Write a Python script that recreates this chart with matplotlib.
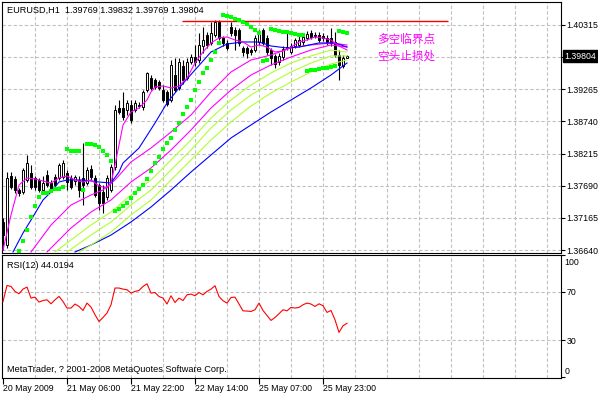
import matplotlib
matplotlib.use("Agg")
import matplotlib.pyplot as plt
from matplotlib import font_manager
import numpy as np

# fuente estrecha tipo Tahoma si existe
_names = {f.name for f in font_manager.fontManager.ttflist}
if "Liberation Sans Narrow" in _names:
    plt.rcParams['font.family'] = ['Liberation Sans Narrow', 'DejaVu Sans']
    plt.rcParams['font.size'] = 7.0
else:
    plt.rcParams['font.family'] = ['Liberation Sans', 'DejaVu Sans']
    plt.rcParams['font.size'] = 6.3

# Velas H1 EURUSD (barra 0 = 20 May 14:00)
opens = [1.37098, 1.36722, 1.37849, 1.37800, 1.37620, 1.37588, 1.37784, 1.37898, 1.37816, 1.37784,
         1.37620, 1.37865, 1.37735, 1.37833, 1.37816, 1.37833, 1.37898, 1.37816, 1.37767, 1.37784,
         1.37816, 1.37735, 1.37963, 1.37816, 1.37702, 1.37588, 1.37506, 1.37620, 1.37996, 1.38959,
         1.38959, 1.38927, 1.39008, 1.38927, 1.39008, 1.38976, 1.39253, 1.39449, 1.39417, 1.39384,
         1.39253, 1.39221, 1.39090, 1.39498, 1.39286, 1.39645, 1.39449, 1.39711, 1.39792, 1.39743,
         1.39972, 1.40151, 1.40021, 1.40151, 1.40364, 1.40102, 1.40021, 1.40282, 1.40233, 1.40233,
         1.39939, 1.39939, 1.39906, 1.39906, 1.40037, 1.40233, 1.40102, 1.39906, 1.39809, 1.39711,
         1.39792, 1.39939, 1.39874, 1.39972, 1.39988, 1.40037, 1.40102, 1.40184, 1.40151, 1.40151,
         1.40135, 1.40102, 1.40102, 1.40037, 1.39825, 1.39645, 1.39769]
closes = [1.36885, 1.37816, 1.37669, 1.37620, 1.37571, 1.37947, 1.38061, 1.37669, 1.37669, 1.37620,
          1.37735, 1.37702, 1.37620, 1.37702, 1.38029, 1.38061, 1.37751, 1.37669, 1.37833, 1.37620,
          1.37702, 1.37947, 1.37833, 1.37539, 1.37408, 1.37408, 1.37816, 1.37996, 1.38927, 1.38894,
          1.38812, 1.39041, 1.38763, 1.39041, 1.38992, 1.39221, 1.39531, 1.39286, 1.39302, 1.39286,
          1.39090, 1.39025, 1.39662, 1.39253, 1.39711, 1.39417, 1.39711, 1.39792, 1.39711, 1.39988,
          1.40070, 1.39988, 1.40184, 1.40364, 1.40102, 1.40021, 1.39939, 1.40184, 1.40151, 1.40021,
          1.39874, 1.39858, 1.39874, 1.40102, 1.40168, 1.40021, 1.39874, 1.39776, 1.39678, 1.39809,
          1.39923, 1.39955, 1.39972, 1.40070, 1.40070, 1.40119, 1.40168, 1.40119, 1.40135, 1.40070,
          1.40102, 1.40037, 1.40021, 1.39825, 1.39662, 1.39776, 1.39804]
highs = [1.37163, 1.37914, 1.37914, 1.37849, 1.37653, 1.37980, 1.38192, 1.38029, 1.37849, 1.37816,
         1.37849, 1.37947, 1.37784, 1.37882, 1.38061, 1.38110, 1.37947, 1.37865, 1.37865, 1.37849,
         1.38388, 1.37996, 1.38029, 1.37865, 1.37735, 1.37702, 1.37865, 1.38045, 1.39008, 1.39090,
         1.39221, 1.39090, 1.39090, 1.39090, 1.39057, 1.39253, 1.39547, 1.39498, 1.39449, 1.39417,
         1.39335, 1.39253, 1.39743, 1.39776, 1.39776, 1.39743, 1.39776, 1.39841, 1.39988, 1.40184,
         1.40282, 1.40200, 1.40364, 1.40396, 1.40396, 1.40135, 1.40070, 1.40364, 1.40282, 1.40266,
         1.39972, 1.39972, 1.39939, 1.40151, 1.40233, 1.40266, 1.40151, 1.39939, 1.39841, 1.39858,
         1.39972, 1.40184, 1.40021, 1.40102, 1.40135, 1.40151, 1.40217, 1.40233, 1.40200, 1.40200,
         1.40184, 1.40151, 1.40266, 1.40200, 1.39906, 1.39825, 1.39832]
lows = [1.36640, 1.36673, 1.37637, 1.37571, 1.37522, 1.37555, 1.37751, 1.37637, 1.37620, 1.37588,
        1.37588, 1.37669, 1.37588, 1.37653, 1.37784, 1.37800, 1.37620, 1.37637, 1.37702, 1.37506,
        1.37375, 1.37702, 1.37784, 1.37506, 1.37294, 1.37245, 1.37457, 1.37588, 1.37947, 1.38861,
        1.38763, 1.38845, 1.38714, 1.38894, 1.38959, 1.38927, 1.39221, 1.39253, 1.39270, 1.39253,
        1.39057, 1.38992, 1.39057, 1.39221, 1.39253, 1.39351, 1.39417, 1.39678, 1.39645, 1.39694,
        1.39858, 1.39939, 1.39988, 1.40119, 1.40070, 1.39972, 1.39906, 1.40135, 1.39906, 1.39972,
        1.39809, 1.39776, 1.39825, 1.39874, 1.39988, 1.39988, 1.39825, 1.39662, 1.39613, 1.39662,
        1.39743, 1.39906, 1.39841, 1.39939, 1.39955, 1.39988, 1.40070, 1.40086, 1.40102, 1.40037,
        1.40053, 1.39988, 1.39972, 1.39792, 1.39417, 1.39613, 1.39769]

# Parabolic SAR (desde la barra 4)
sar_start = 4
sar = [1.36624, 1.36788, 1.36967, 1.37179, 1.37359, 1.37506, 1.37571, 1.37571, 1.37604, 1.37637,
       1.37637, 1.37669, 1.38290, 1.38257, 1.38257, 1.38257, 1.37620, 1.38372, 1.38372, 1.38355,
       1.38323, 1.38257, 1.38192, 1.38094, 1.37277, 1.37310, 1.37359, 1.37408, 1.37490, 1.37571,
       1.37637, 1.37702, 1.37800, 1.37931, 1.38061, 1.38159, 1.38290, 1.38388, 1.38470, 1.38600,
       1.38714, 1.38861, 1.38976, 1.39090, 1.39253, 1.39384, 1.39531, 1.39613, 1.39743, 1.39874,
       1.40021, 1.40478, 1.40462, 1.40445, 1.40413, 1.40396, 1.40364, 1.40331, 1.40282, 1.40233,
       1.40184, 1.39727, 1.39743, 1.40249, 1.40233, 1.40217, 1.40200, 1.40200, 1.40184, 1.40168,
       1.40151, 1.40151, 1.39564, 1.39580, 1.39580, 1.39596, 1.39613, 1.39613, 1.39629, 1.39645,
       1.40217, 1.40200, 1.40184]

# Medias moviles (barra, precio)
ma_fast_x = [0, 2, 4, 6, 8, 10, 12, 14, 16, 18, 20, 22, 24, 26, 27, 28, 29, 30, 32, 34, 36, 37, 38,
             40, 42, 44, 46, 48, 50, 52, 54, 56, 58, 60, 62, 64, 66, 68, 70, 72, 74, 76, 78, 80, 82, 84, 86]
ma_fast_y = [1.36640, 1.37212, 1.37702, 1.37816, 1.37800, 1.37767, 1.37735, 1.37816, 1.37849, 1.37784,
             1.37751, 1.37784, 1.37686, 1.37653, 1.37735, 1.38029, 1.38355, 1.38682, 1.38894, 1.38959,
             1.39090, 1.39221, 1.39302, 1.39319, 1.39286, 1.39319, 1.39449, 1.39694, 1.39874, 1.40021,
             1.40102, 1.40119, 1.40070, 1.40037, 1.39955, 1.39988, 1.39955, 1.39874, 1.39890, 1.39955,
             1.40037, 1.40070, 1.40119, 1.40102, 1.40070, 1.39972, 1.39906]
ma_blue_x = [2.5, 5, 7, 10, 12, 14, 16, 20, 24, 27, 29, 30, 34, 38, 41, 44, 48, 52, 56, 60, 64, 67,
             71, 74, 79, 83, 86]
ma_blue_y = [1.36608, 1.36918, 1.37130, 1.37457, 1.37588, 1.37751, 1.37784, 1.37784, 1.37751, 1.37735,
             1.37914, 1.38061, 1.38306, 1.38714, 1.39041, 1.39286, 1.39580, 1.39874, 1.40004, 1.40037,
             1.40037, 1.39972, 1.39939, 1.39955, 1.40021, 1.40021, 1.39955]
ma_m1_x = [7, 12, 17, 22, 25, 28, 32, 37, 42, 47, 52, 57, 62, 67, 72, 77, 82, 86]
ma_m1_y = [1.36608, 1.37049, 1.37375, 1.37539, 1.37620, 1.37784, 1.38078, 1.38306, 1.38567, 1.38845,
           1.39221, 1.39547, 1.39743, 1.39825, 1.39939, 1.39988, 1.40021, 1.39988]
ma_m2_x = [11, 17, 22, 27, 32, 37, 42, 47, 52, 57, 62, 67, 72, 77, 82, 86]
ma_m2_y = [1.36608, 1.37000, 1.37261, 1.37457, 1.37751, 1.37980, 1.38273, 1.38600, 1.38959, 1.39253,
           1.39498, 1.39662, 1.39792, 1.39906, 1.39988, 1.39955]
ma_g1_x = [13, 17, 22, 27, 32, 37, 42, 47, 52, 57, 62, 67, 72, 77, 82, 86]
ma_g1_y = [1.36608, 1.36804, 1.37049, 1.37261, 1.37539, 1.37784, 1.38110, 1.38437, 1.38796, 1.39090,
           1.39335, 1.39531, 1.39694, 1.39809, 1.39906, 1.39874]
ma_g2_x = [16, 22, 27, 32, 37, 42, 47, 52, 57, 62, 67, 72, 77, 82, 86]
ma_g2_y = [1.36608, 1.36885, 1.37098, 1.37375, 1.37620, 1.37947, 1.38273, 1.38633, 1.38927, 1.39172,
           1.39368, 1.39547, 1.39694, 1.39809, 1.39809]
ma_g3_x = [19, 22, 27, 32, 37, 42, 47, 52, 57, 62, 67, 72, 77, 82, 86]
ma_g3_y = [1.36608, 1.36722, 1.36934, 1.37212, 1.37457, 1.37784, 1.38110, 1.38437, 1.38731, 1.38992,
           1.39204, 1.39384, 1.39547, 1.39678, 1.39743]
ma_slow_x = [18, 22, 27, 32, 37, 42, 47, 52, 57, 62, 67, 72, 77, 82, 86]
ma_slow_y = [1.36608, 1.36722, 1.36885, 1.37098, 1.37343, 1.37620, 1.37914, 1.38192, 1.38470, 1.38682,
             1.38894, 1.39090, 1.39286, 1.39498, 1.39694]

rsi = [62.0, 75.2, 74.4, 70.3, 68.4, 72.2, 73.9, 64.8, 65.6, 61.5,
       62.8, 63.4, 60.1, 63.4, 66.2, 62.0, 56.6, 56.6, 59.9, 57.9,
       54.6, 60.7, 57.4, 51.1, 45.5, 48.8, 52.5, 59.3, 73.1, 73.1,
       72.2, 71.7, 68.9, 70.3, 71.1, 74.4, 76.6, 68.9, 69.4, 66.1,
       64.8, 59.9, 66.7, 61.2, 64.8, 62.8, 67.5, 68.1, 66.7, 69.4,
       67.5, 70.3, 72.2, 75.0, 66.1, 62.6, 60.7, 65.3, 65.6, 59.9,
       54.3, 54.1, 53.8, 55.2, 60.7, 54.6, 50.5, 46.4, 48.8, 51.9,
       55.2, 54.3, 57.1, 56.6, 57.1, 59.3, 60.7, 59.9, 57.9, 60.1,
       58.5, 53.0, 54.6, 46.9, 36.5, 42.0, 44.02]

price_levels = [1.36640, 1.37165, 1.37690, 1.38215, 1.38740, 1.39265, 1.39790, 1.40315]
resist_level = 1.40385
resist_from, resist_to = 44.75, 111.25
time_ticks = [0, 16, 32, 48, 64, 80]
time_labels = ["20 May 2009", "21 May 06:00", "21 May 22:00", "22 May 14:00", "25 May 07:00", "25 May 23:00"]

W, H = 598, 395
fig = plt.figure(figsize=(W / 100, H / 100), dpi=100)


def px_box(l, t, r, b):
    return [l / W, 1 - b / H, (r - l) / W, (b - t) / H]


ax = fig.add_axes(px_box(1.5, 1.5, 560.5, 252.5))
ax2 = fig.add_axes(px_box(1.5, 254.5, 560.5, 377.5))
grid_kw = dict(color="#C0C0C0", linestyle=(0, (3, 2)), linewidth=0.8, zorder=0)

for a in (ax, ax2):
    a.set_xlim(-0.375, 139.375)
    for b in range(8, 139, 8):
        a.axvline(b, **grid_kw)
    for s in a.spines.values():
        s.set_linewidth(0.8)
        s.set_color("black")
    a.yaxis.tick_right()
    a.tick_params(axis="y", length=3, width=0.8, pad=1.2, direction="out")

# --- panel principal ---
ax.set_ylim(1.36600, 1.40698)
for p in price_levels:
    ax.axhline(p, **grid_kw)
ax.set_yticks(price_levels)
ax.set_yticklabels(["" if p == 1.39790 else f"{p:.5f}" for p in price_levels])
ax.tick_params(axis="x", length=0, labelbottom=False)

x = np.arange(len(opens))
o = np.array(opens); c = np.array(closes)
ax.vlines(x, lows, highs, color="black", linewidth=0.8, zorder=2)
bull = c >= o
ax.bar(x, np.abs(c - o), bottom=np.minimum(o, c), width=0.55,
       color=np.where(bull, "white", "black"), edgecolor="black", linewidth=0.7, zorder=3)

ax.plot(ma_slow_x, ma_slow_y, color="#0000FF", linewidth=0.8, zorder=4)
for gx, gy in ((ma_g1_x, ma_g1_y), (ma_g2_x, ma_g2_y), (ma_g3_x, ma_g3_y)):
    ax.plot(gx, gy, color="#ADFF2F", linewidth=0.8, zorder=4)
ax.plot(ma_m2_x, ma_m2_y, color="#FF00FF", linewidth=0.8, zorder=4)
ax.plot(ma_m1_x, ma_m1_y, color="#FF00FF", linewidth=0.8, zorder=4)
ax.plot(ma_blue_x, ma_blue_y, color="#0000FF", linewidth=0.8, zorder=4)
ax.plot(ma_fast_x, ma_fast_y, color="#FF00FF", linewidth=0.8, zorder=4)

ax.plot(np.arange(sar_start, sar_start + len(sar)), sar, "s", color="#00FF00",
        markersize=2.8, markeredgewidth=0, zorder=5)

ax.hlines(resist_level, resist_from, resist_to, color="#FF0000", linewidth=1.0, zorder=4)
ax.text(93.5, 1.40086, "多空临界点", color="#FF00FF", fontsize=8.4,
        family=["Noto Sans CJK SC"], va="center", ha="left")
ax.text(93.5, 1.39809, "空头止损处", color="#FF00FF", fontsize=8.4,
        family=["Noto Sans CJK SC"], va="center", ha="left")

ax.annotate(f"{closes[-1]:.5f}", xy=(1, closes[-1]), xycoords=("axes fraction", "data"),
            xytext=(2.9, 0), textcoords="offset points", va="center", ha="left", color="white",
            bbox=dict(boxstyle="square,pad=0.15", facecolor="black", edgecolor="black"))

fig.text(7 / W, 1 - 10 / H, "EURUSD,H1  %.5f %.5f %.5f %.5f" % (opens[-1], highs[-1], lows[-1], closes[-1]),
         va="center", ha="left", fontsize=6.6)

# --- panel RSI ---
ax2.set_ylim(-0.66, 100.74)
for lv in (30, 70):
    ax2.axhline(lv, **grid_kw)
ax2.set_yticks([0, 30, 70, 100])
ax2.set_yticklabels(["", "30", "70", ""])
for lv, lab in ((94.3, "100"), (4.3, "0")):
    ax2.annotate(lab, xy=(1, lv), xycoords=("axes fraction", "data"), xytext=(2.9, 0),
                 textcoords="offset points", va="center", ha="left")
ax2.plot(x, rsi, color="#FF0000", linewidth=0.8, zorder=3)
ax2.set_xticks(time_ticks)
ax2.set_xticklabels(time_labels, ha="left")
ax2.tick_params(axis="x", length=4, width=0.8, pad=1, direction="out")

fig.text(7 / W, 1 - 265 / H, "RSI(12) %.4f" % 44.0194, va="center", ha="left", fontsize=6.6)
fig.text(7 / W, 1 - 369 / H, "MetaTrader, ? 2001-2008 MetaQuotes Software Corp.",
         va="center", ha="left", fontsize=6.6)

fig.savefig("out.png", dpi=100, facecolor="white")
